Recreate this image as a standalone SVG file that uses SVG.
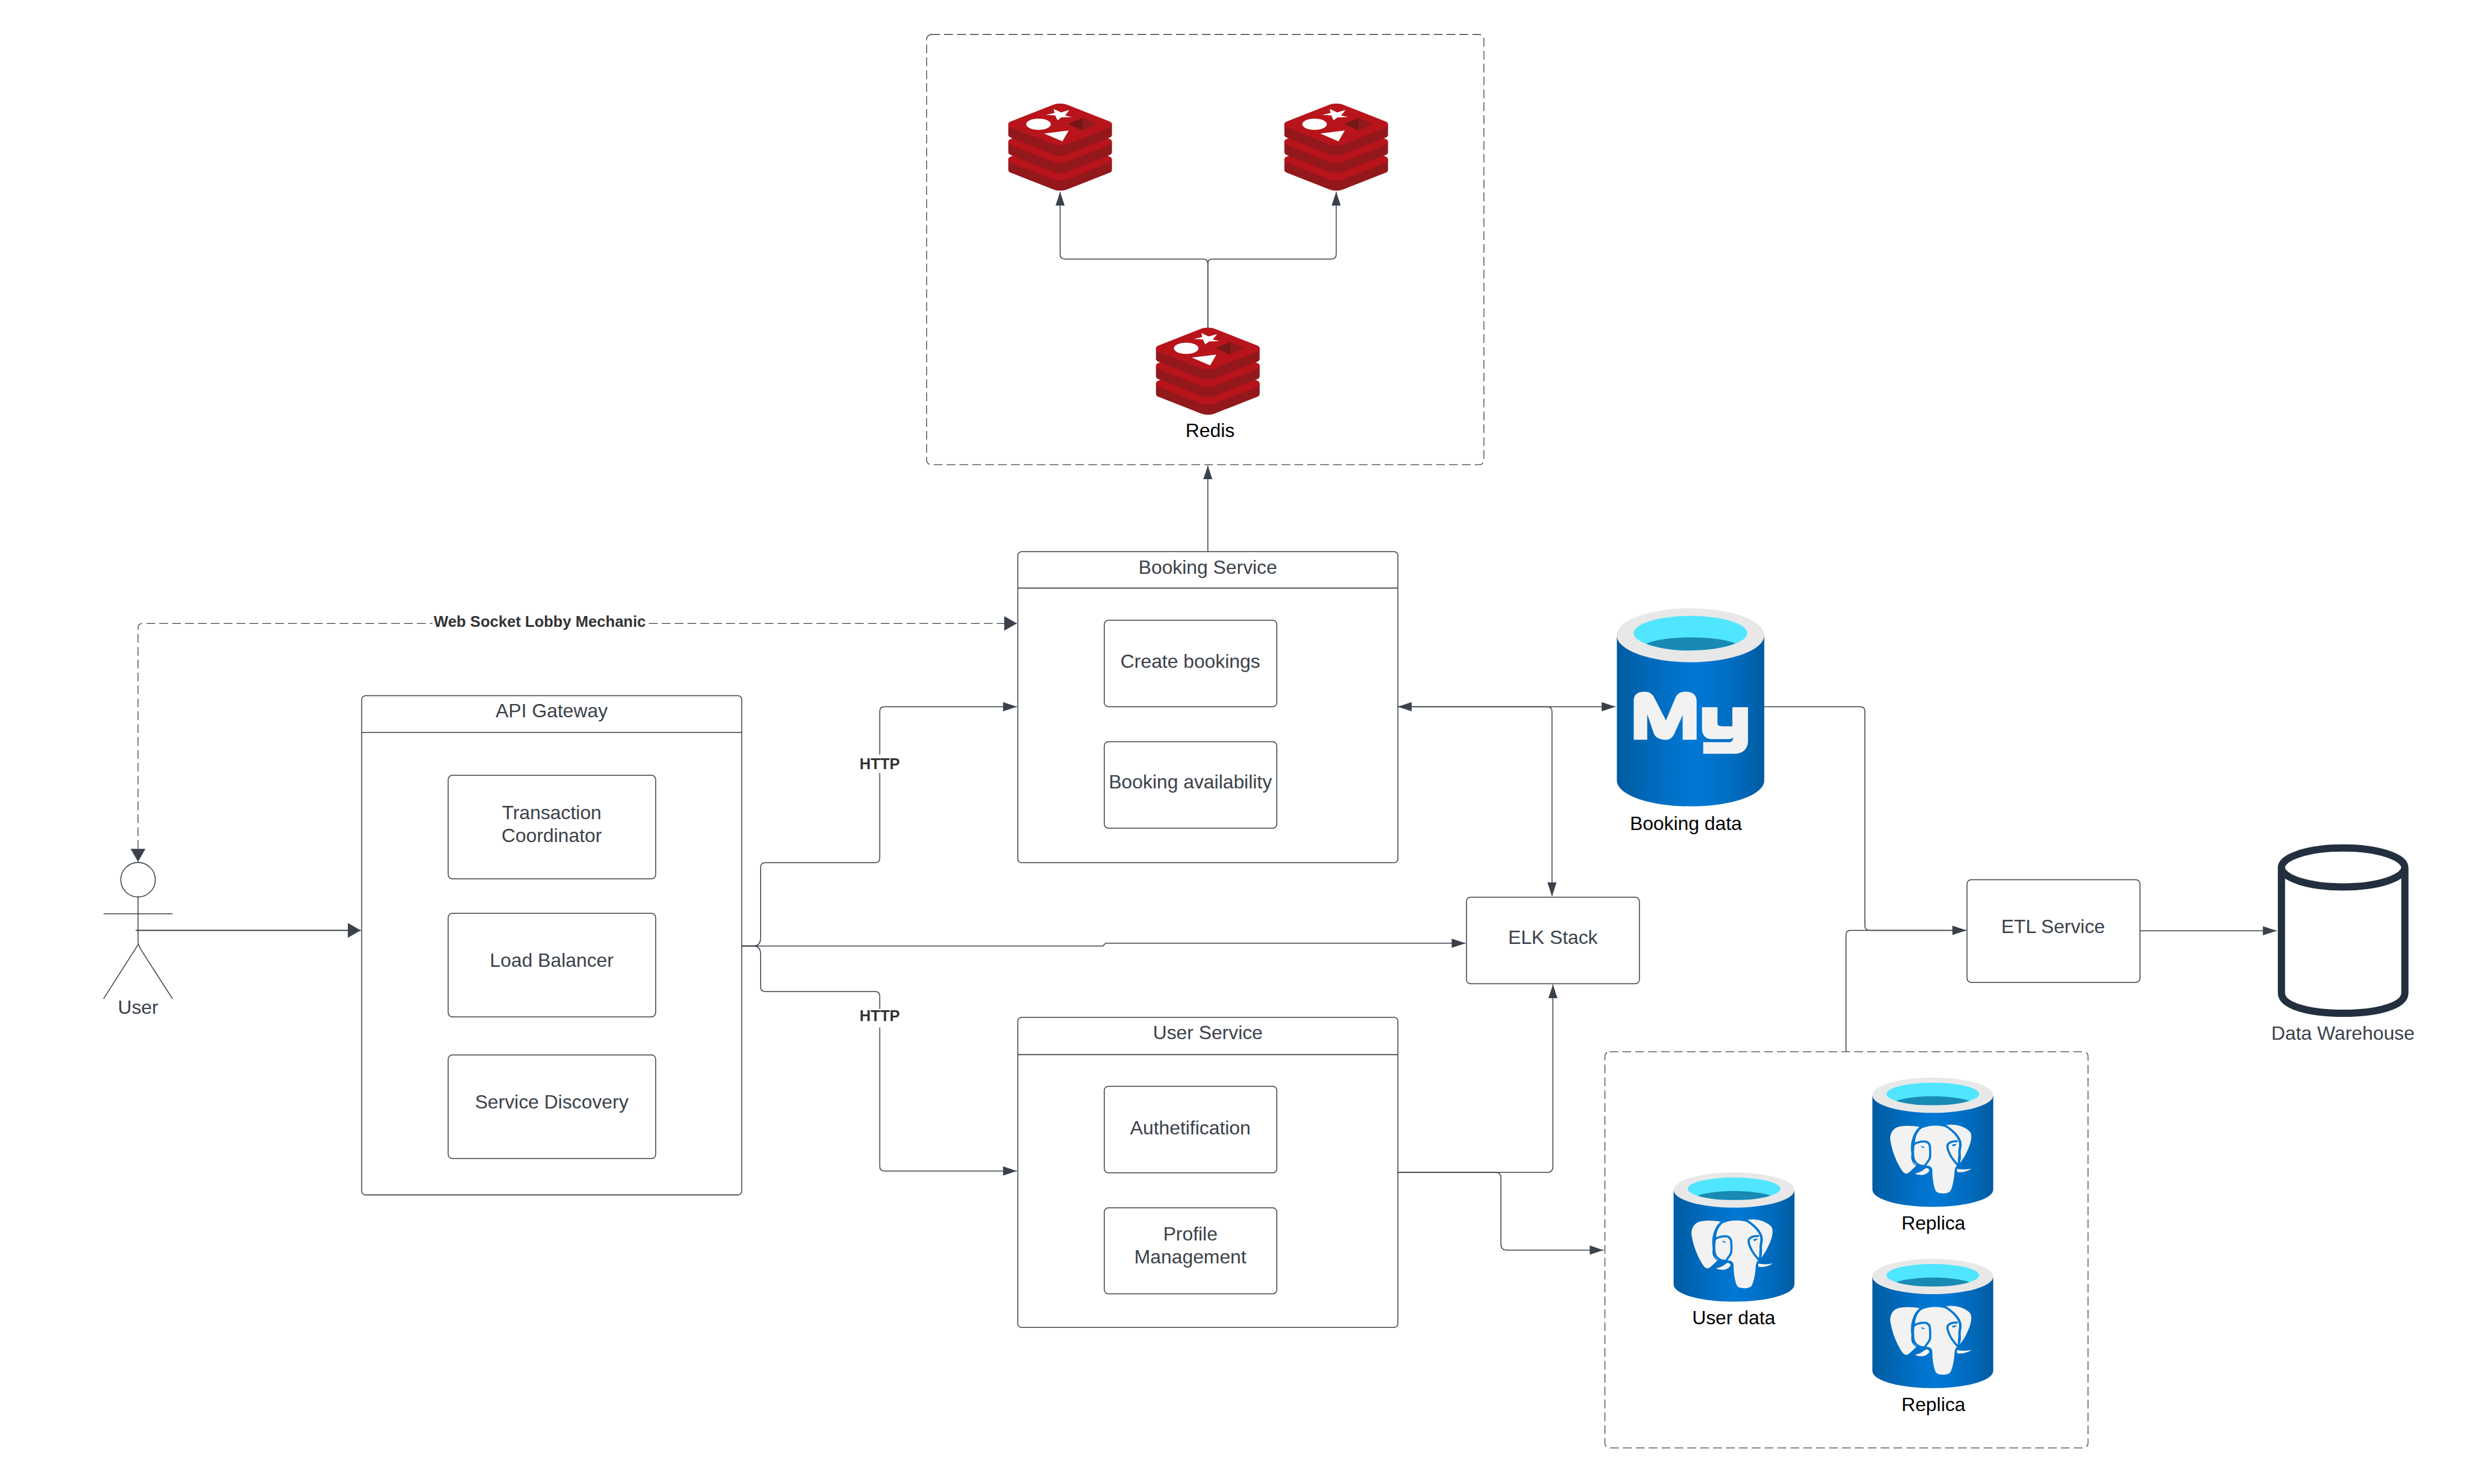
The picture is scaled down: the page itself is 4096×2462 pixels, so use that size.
<svg xmlns="http://www.w3.org/2000/svg" xmlns:xlink="http://www.w3.org/1999/xlink" width="4096" height="2462" viewBox="0 0 4096 2462">
<style>
text{font-family:"Liberation Sans",Arial,sans-serif;font-size:41.7px;fill:#3a414a;text-anchor:middle}
.k{fill:#000}
.lb{font-weight:700;font-size:33.5px;fill:#333}
.box{fill:#fff;stroke:#3a414a;stroke-width:2}
.hd{stroke:#3a414a;stroke-width:2.2;fill:none}
.dash{fill:none;stroke:#3a414a;stroke-width:1.7;stroke-dasharray:19 9}
.c{fill:none;stroke:#3a414a;stroke-width:2}
.cb{fill:none;stroke:#3a414a;stroke-width:2.6}
.a{marker-end:url(#ah)}
.ab{marker-end:url(#ahb)}
</style>
<defs>
<marker id="ah" markerUnits="userSpaceOnUse" markerWidth="30" markerHeight="20" refX="30" refY="10" orient="auto-start-reverse"><path d="M0 0L30 10L0 20Z" fill="#3a414a"/></marker>
<marker id="ahb" markerUnits="userSpaceOnUse" markerWidth="28" markerHeight="32" refX="28" refY="16" orient="auto-start-reverse"><path d="M0 0L28 16L0 32Z" fill="#3a414a"/></marker>
<linearGradient id="cy" x1="0" x2="1" y1="0" y2="0"><stop offset="0" stop-color="#005ba1"/><stop offset=".07" stop-color="#0060a9"/><stop offset=".36" stop-color="#0071c8"/><stop offset=".52" stop-color="#0078d4"/><stop offset=".64" stop-color="#0074cd"/><stop offset=".82" stop-color="#006abb"/><stop offset="1" stop-color="#005ba1"/></linearGradient>
<g id="rlayer">
<path fill="#93181b" d="M34 0V65C34 79 45 83 55 87L325 193C355 205 390 205 420 193L690 87C700 83 710 79 710 65V0Z"/>
<path fill="#b8141b" d="M34 0C34-14 45-18 55-22L325-128C355-140 390-140 420-128L690-22C700-18 710-14 710 0C710 14 700 18 690 22L420 128C390 140 355 140 325 128L55 22C45 18 34 14 34 0Z"/>
</g>
<g id="redis">
<use href="#rlayer" transform="translate(0,396)"/>
<use href="#rlayer" transform="translate(0,281)"/>
<use href="#rlayer" transform="translate(0,167)"/>
<path fill="#fff" d="M330 65L378 88L432 72L405 108L448 118L380 120L355 140L340 108L280 104L335 92Z"/>
<ellipse fill="#fff" cx="231" cy="165" rx="80" ry="37"/>
<path fill="#fff" d="M268 226L428 206L387 277Z"/>
<path fill="#761718" d="M425 165L518 122V207Z"/>
<path fill="#911a1c" d="M518 122L612 165L518 207Z"/>
</g>
<g id="pg">
<path fill="url(#cy)" d="M22 150V760C22 825 200 873 416 873C632 873 810 825 810 760V150Z"/>
<ellipse fill="#e8e8e8" cx="416" cy="145" rx="394" ry="115"/>
<ellipse fill="#50e6ff" cx="416" cy="137" rx="302" ry="73"/>
<path fill="#198ab3" d="M178 182C290 142 540 142 655 182C580 205 500 210 416 210C330 210 250 205 178 182Z"/>
<path fill="#f2f2f2" d="M330 352C280 342 210 340 175 358C150 372 138 400 138 430C145 490 170 560 200 612C215 640 230 658 245 656C258 654 270 640 307 606C285 590 275 570 275 545L277 530C272 490 272 460 282 430C290 400 305 370 330 352Z"/>
<path fill="#f2f2f2" d="M300 445C305 405 320 372 345 360C395 338 470 338 510 358C550 380 580 410 590 455L580 560V600C565 610 560 620 558 640C555 690 545 745 530 770C515 790 460 790 440 775C425 760 415 700 413 650C415 625 410 610 385 605L305 600C285 580 285 550 290 530Z"/>
<path fill="#f2f2f2" d="M500 340C560 330 620 345 660 385C675 410 665 460 640 510C625 545 605 575 585 597C598 575 600 550 598 525C595 510 604 490 604 465C602 420 560 375 500 340Z"/>
<path fill="none" stroke="#0078d4" stroke-width="14" d="M290 470C300 455 340 445 365 447C390 450 398 470 398 490C400 520 402 540 395 560C385 580 372 590 365 605C340 610 310 600 295 570C285 550 288 530 287 515C283 490 282 450 296 420C305 395 315 375 335 358"/>
<path fill="none" stroke="#0078d4" stroke-width="14" d="M578 445C550 445 520 450 512 470C508 490 518 510 525 525C535 550 555 575 578 600C592 585 592 560 590 530C585 510 592 500 595 470C595 430 560 385 500 345"/>
<path fill="#f2f2f2" d="M300 655C330 652 350 635 370 622C385 618 395 628 392 640C380 655 360 668 335 665C320 665 305 660 300 655Z"/>
<path fill="#f2f2f2" d="M572 625C600 630 640 632 668 623C650 640 610 652 575 645Z"/>
<path fill="#0078d4" d="M338 475C348 478 360 482 365 484C358 490 345 490 338 475Z"/>
<path fill="#0078d4" d="M540 468C550 465 565 462 572 462C565 475 545 485 540 468Z"/>
</g>
</defs>
<rect width="4096" height="2462" fill="#fff"/>
<g transform="scale(0.76333)">
<g id="redis-cluster"><rect class="dash" x="2014" y="75" width="1211" height="935" rx="10"/></g>
<g id="redis-replica-1"><use href="#redis" transform="translate(2180,215) scale(.3333)"/></g>
<g id="redis-replica-2"><use href="#redis" transform="translate(2780,215) scale(.3333)"/></g>
<g id="redis-primary"><use href="#redis" transform="translate(2501,702) scale(.3333)"/><text class="k" x="2630" y="950">Redis</text></g>

<g id="actor-user" fill="none" stroke="#3a414a" stroke-width="2">
<circle cx="300" cy="1912" r="37.5"/>
<path d="M300 1949V2045C300 2052 302 2056 305 2062L375 2171M225 1986H375M300 2053L225 2171"/>
<text x="300" y="2203" stroke="none">User</text>
</g>

<g id="api-gateway">
<rect class="box" x="786" y="1512" width="826" height="1085" rx="8"/>
<path class="hd" d="M786 1592H1612"/>
<text x="1199" y="1559">API Gateway</text>
</g>
<g id="transaction-coordinator"><rect class="box" x="974" y="1685" width="451" height="225" rx="9"/><text x="1199" y="1780">Transaction</text><text x="1199" y="1830">Coordinator</text></g>
<g id="load-balancer"><rect class="box" x="974" y="1985" width="451" height="225" rx="9"/><text x="1199" y="2101">Load Balancer</text></g>
<g id="service-discovery"><rect class="box" x="974" y="2293" width="451" height="225" rx="9"/><text x="1199" y="2409">Service Discovery</text></g>

<g id="booking-service">
<rect class="box" x="2212" y="1199" width="826" height="676" rx="8"/>
<path class="hd" d="M2212 1278H3038"/>
<text x="2625" y="1247">Booking Service</text>
</g>
<g id="create-bookings"><rect class="box" x="2400" y="1348" width="375" height="188" rx="9"/><text x="2587" y="1452">Create bookings</text></g>
<g id="booking-availability"><rect class="box" x="2400" y="1612" width="375" height="188" rx="9"/><text x="2587" y="1714">Booking availability</text></g>

<g id="user-service">
<rect class="box" x="2212" y="2211" width="826" height="674" rx="8"/>
<path class="hd" d="M2212 2292H3038"/>
<text x="2625" y="2259">User Service</text>
</g>
<g id="authetification"><rect class="box" x="2400" y="2361" width="375" height="188" rx="9"/><text x="2587" y="2465">Authetification</text></g>
<g id="profile-management"><rect class="box" x="2400" y="2625" width="375" height="187" rx="9"/><text x="2587" y="2696">Profile</text><text x="2587" y="2746">Management</text></g>

<g id="elk-stack"><rect class="box" x="3187" y="1950" width="376" height="188" rx="9"/><text x="3375" y="2052">ELK Stack</text></g>
<g id="etl-service"><rect class="box" x="4275" y="1912" width="376" height="223" rx="9"/><text x="4462" y="2028">ETL Service</text></g>

<g id="booking-data">
<g transform="translate(3400,1280) scale(.3333,.35714)">
<path fill="url(#cy)" d="M342 285V1165C342 1255 560 1323 822 1323C1085 1323 1303 1255 1303 1165V285Z"/>
<ellipse fill="#e8e8e8" cx="822" cy="282" rx="481" ry="164"/>
<ellipse fill="#50e6ff" cx="822" cy="269" rx="370" ry="105"/>
<path fill="#198ab3" d="M533 334C650 282 1000 282 1115 332C1030 362 920 375 800 375C700 375 610 360 533 334Z"/>
<path fill="#f2f2f2" d="M452 918V680C452 640 480 625 525 625C555 625 575 640 585 660L662 800L725 660C737 635 760 625 790 625C835 625 862 645 862 680V918H771V768L715 885C700 910 685 918 660 918C630 918 600 910 585 885L540 762V918Z"/>
<path fill="#f2f2f2" d="M897 720H998V820C998 830 1010 836 1030 836H1095V720H1197V925C1197 975 1160 1003 1110 1003H905V932H1080C1092 932 1098 920 1102 903C1095 912 1080 914 1060 914H960C920 914 897 890 897 850Z"/>
</g>
<text class="k" x="3664" y="1804">Booking data</text>
</g>

<g id="postgres-cluster"><rect class="dash" x="3488" y="2286" width="1050" height="861" rx="10"/></g>
<g id="user-data"><use href="#pg" transform="translate(3630,2538) scale(.3333)"/><text class="k" x="3768" y="2878">User data</text></g>
<g id="replica-1"><use href="#pg" transform="translate(4062,2332) scale(.3333)"/><text class="k" x="4202" y="2673">Replica</text></g>
<g id="replica-2"><use href="#pg" transform="translate(4062,2726) scale(.3333)"/><text class="k" x="4202" y="3067">Replica</text></g>

<g id="data-warehouse">
<g transform="translate(4850,1798) scale(.3333)" fill="none" stroke="#232f3f" stroke-width="47">
<ellipse cx="727" cy="262" rx="402" ry="127"/>
<path d="M325 262V1080C325 1165 505 1213 727 1213C950 1213 1130 1165 1130 1080V262"/>
</g>
<text x="5092" y="2260">Data Warehouse</text>
</g>

<g id="connectors">
<path class="c a" d="M2625 712V573Q2625 563 2615 563H2314Q2304 563 2304 553V417"/>
<path class="c a" d="M2625 712V573Q2625 563 2635 563H2894Q2904 563 2904 553V417"/>
<path class="c a" d="M2625 1199V1012"/>
<path class="cb ab" d="M295 2022H784"/>
<path class="dash" d="M300 1873V1365Q300 1355 310 1355H2210" style="marker-end:url(#ahb);marker-start:url(#ahb)"/>
<path class="cb" d="M1612 2056H1640"/>
<path class="c a" d="M1640 2056Q1653 2054 1653 2039V1885Q1653 1875 1663 1875H1902Q1912 1875 1912 1865V1546Q1912 1536 1922 1536H2210"/>
<path class="c a" d="M1640 2056Q1653 2058 1653 2073V2145Q1653 2155 1663 2155H1902Q1912 2155 1912 2165V2535Q1912 2545 1922 2545H2210"/>
<path class="c a" d="M1612 2056H2397L2403 2050H3185"/>
<path class="c a" d="M3038 1536H3511" style="marker-start:url(#ah)"/>
<path class="c a" d="M3038 1536H3363Q3373 1536 3373 1546V1948"/>
<path class="c a" d="M3038 2548H3363Q3375 2548 3375 2536V2140"/>
<path class="c a" d="M3038 2548H3250Q3262 2548 3262 2560V2705Q3262 2717 3274 2717H3485"/>
<path class="c a" d="M3834 1536H4043Q4053 1536 4053 1546V2012Q4053 2022 4063 2022H4273"/>
<path class="c a" d="M4012 2286V2032Q4012 2022 4022 2022H4273"/>
<path class="c a" d="M4651 2023H4948"/>
<rect x="940" y="1332" width="466" height="44" fill="#fff"/>
<text class="lb" x="1173" y="1362">Web Socket Lobby Mechanic</text>
<rect x="1868" y="1640" width="88" height="40" fill="#fff"/>
<text class="lb" x="1912" y="1671">HTTP</text>
<rect x="1868" y="2193" width="88" height="40" fill="#fff"/>
<text class="lb" x="1912" y="2219">HTTP</text>
</g>
</g>
</svg>
